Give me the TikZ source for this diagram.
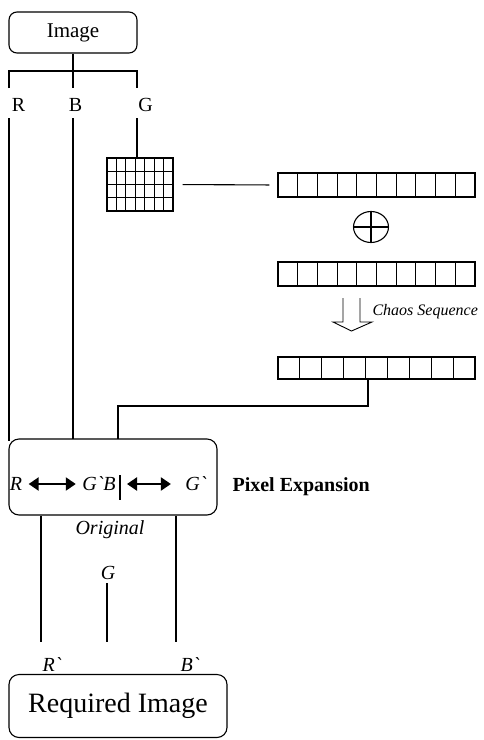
\documentclass[tikz,border=0pt]{standalone}
\usepackage{fontspec}
\setmainfont{Liberation Serif}
\usetikzlibrary{arrows.meta,calc,shapes.geometric}
\begin{document}
\begin{tikzpicture}[x=1pt,y=-1pt,line width=1.1pt,
  rbox/.style={draw,rounded corners=8pt,inner sep=0pt},
  lbl/.style={inner sep=0pt,font=\fontsize{20}{22}\selectfont},
  ilbl/.style={inner sep=0pt,font=\fontsize{20}{22}\selectfont\itshape},
  cellrow/.style={draw,inner sep=0pt,minimum width=197pt,minimum height=24pt},
  dbl/.style={{Triangle[length=10pt,width=13pt]}-{Triangle[length=10pt,width=13pt]},line width=2.2pt}]
\useasboundingbox (0,0) rectangle (483,740);
% top image box
\node[rbox,minimum width=128pt,minimum height=41pt,font=\fontsize{21}{23}\selectfont] (img) at (73,32.5) {Image};
\coordinate (split) at (73,71);
\coordinate (sR) at (9,88);
\coordinate (sG) at (137,88);
\coordinate (sB) at (73,88);
\draw (img.south) -- (split);
\draw (sR) |- (split) -| (sG);
\draw (split) -- (sB);
\node[lbl] (lR) at (18.5,105) {R};
\node[lbl] (lB) at (75.5,105) {B};
\node[lbl] (lG) at (145.5,105) {G};
% grid
\node[draw,inner sep=0pt,minimum width=66pt,minimum height=53pt] (grid) at (140,184.5) {};
\foreach \i in {1,...,6} \draw (107+\i*9.43,158) -- (107+\i*9.43,211);
\foreach \j in {1,2,3} \draw (107,158+\j*13.25) -- (173,158+\j*13.25);
\coordinate (gR) at (9,118);
\coordinate (gB) at (73,118);
\coordinate (gG) at (137,118);
\draw (gG) -- (gG |- grid.north);
% rows
\node[cellrow] (row1) at (376.5,185) {};
\foreach \i in {1,...,9} \draw (278+\i*19.7,173) -- (278+\i*19.7,197);
\node[cellrow] (row2) at (376.5,274) {};
\foreach \i in {1,...,9} \draw (278+\i*19.7,262) -- (278+\i*19.7,286);
\node[cellrow,minimum height=22pt] (row3) at (376.5,368) {};
\foreach \i in {1,...,8} \draw (278+\i*21.89,357) -- (278+\i*21.89,379);
\draw[shorten <=9pt,shorten >=8pt] (grid.east) -- (row1.west);
% xor
\node[draw,ellipse,minimum width=35pt,minimum height=31pt,inner sep=0pt] (xor) at (371,227) {};
\draw (xor.west) -- (xor.east) (xor.north) -- (xor.south);
% chaos arrow
\draw[line width=0.9pt] (343,298) -- (343,322) -- (333,322) -- (351.5,331) -- (372,322) -- (360,322) -- (360,298);
\node[anchor=west,inner sep=0pt,font=\fontsize{16}{18}\selectfont\itshape] (chaos) at (372,312) {Chaos Sequence};
% pixel expansion box
\node[rbox,rounded corners=10pt,minimum width=208pt,minimum height=76pt] (px) at (113,477) {};
\node[ilbl] (pR) at (16,484) {R};
\node[ilbl] (pGB) at (99,484) {G\textasciigrave B};
\node[ilbl] (pG) at (196,484) {G\textasciigrave};
\draw[dbl,shorten <=6pt,shorten >=6pt] (pR.east) -- (pGB.west);
\coordinate (bar1) at (120,475);
\coordinate (bar2) at (120,500);
\draw (bar1) -- (bar2);
\draw[dbl,shorten <=7pt,shorten >=14pt] (bar1 |- pR.east) -- (pG.west);
\node[anchor=west,inner sep=0pt,font=\fontsize{20}{22}\selectfont\bfseries] (pe) at (232,487) {Pixel Expansion};
% lines into box
\draw (gR) -- (9,441);
\draw (gB) -- (73 ,439);
\coordinate (c1) at (368,406);
\draw (row3.south -| c1) -- (c1) -- (118,406) -- (118,439);
\node[ilbl] (orig) at (110,530) {Original};
% lines below box
\coordinate (bR) at (41,642);
\coordinate (bB) at (176,642);
\coordinate (bG) at (107,642);
\draw (bR |- px.south) -- (bR);
\draw (bB |- px.south) -- (bB);
\node[ilbl] (oG) at (108,573) {G};
\draw (107,583) -- (bG);
\node[ilbl] (rR) at (52,665) {R\textasciigrave};
\node[ilbl] (rB) at (190,665) {B\textasciigrave};
% required image
\node[rbox,rounded corners=10pt,minimum width=218pt,minimum height=63pt,font=\fontsize{28}{30}\selectfont] (req) at (118,706) {Required Image};
\end{tikzpicture}
\end{document}
